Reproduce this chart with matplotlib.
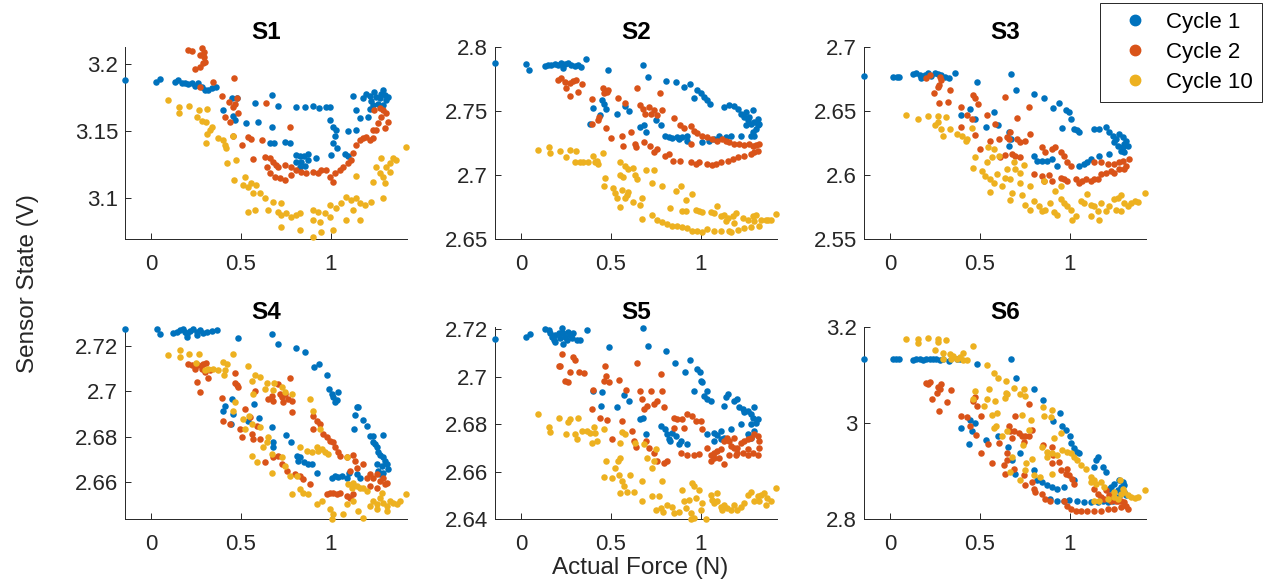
import numpy as np
import matplotlib
matplotlib.use('Agg')
import matplotlib.pyplot as plt
from matplotlib.lines import Line2D

# columns: actual force (N), sensor state (V)
s1_cycle1 = np.array([
    [-0.144, 3.188], [0.028, 3.1865], [0.05, 3.189], [0.133, 3.187], [0.152, 3.188], [0.170, 3.186],
    [0.189, 3.186], [0.207, 3.185], [0.226, 3.186], [0.244, 3.184], [0.263, 3.186], [0.281, 3.183],
    [0.300, 3.181], [0.318, 3.181], [0.337, 3.182], [0.361, 3.183], [0.448, 3.175], [0.481, 3.175],
    [0.398, 3.166], [0.457, 3.161], [0.466, 3.158], [0.531, 3.156], [0.596, 3.157], [0.578, 3.171],
    [0.674, 3.177], [0.674, 3.153], [0.707, 3.169], [0.806, 3.168], [0.856, 3.168], [0.902, 3.169],
    [0.933, 3.167], [0.976, 3.168], [0.994, 3.168], [0.661, 3.141], [0.683, 3.141], [0.748, 3.142],
    [0.776, 3.141], [0.809, 3.132], [0.828, 3.131], [0.850, 3.131], [0.874, 3.133], [0.806, 3.127],
    [0.837, 3.127], [0.874, 3.128], [0.920, 3.130], [0.828, 3.123], [0.856, 3.124], [0.994, 3.158],
    [1.013, 3.153], [1.031, 3.151], [1.022, 3.146], [1.013, 3.141], [1.035, 3.137], [1.004, 3.132],
    [1.078, 3.133], [1.096, 3.131], [1.096, 3.150], [1.143, 3.151], [1.161, 3.160], [1.143, 3.166],
    [1.124, 3.176], [1.180, 3.1745], [1.198, 3.178], [1.217, 3.176], [1.226, 3.1725], [1.244, 3.179],
    [1.254, 3.1755], [1.272, 3.1745], [1.281, 3.178], [1.291, 3.1805], [1.300, 3.1768], [1.309, 3.173],
    [1.319, 3.1755], [1.263, 3.1705], [1.235, 3.1693], [1.207, 3.1603], [1.220, 3.1665], [1.291, 3.1693],
])
s1_cycle2 = np.array([
    [0.207, 3.2108], [0.226, 3.2103], [0.281, 3.212], [0.294, 3.2095], [0.272, 3.207], [0.294, 3.2058],
    [0.300, 3.202], [0.291, 3.2008], [0.244, 3.1963], [0.272, 3.1983], [0.272, 3.183], [0.343, 3.187],
    [0.461, 3.190], [0.393, 3.1765], [0.435, 3.1715], [0.454, 3.168], [0.467, 3.1705], [0.476, 3.1745],
    [0.411, 3.1608], [0.439, 3.157], [0.485, 3.1633], [0.454, 3.1465], [0.504, 3.1395], [0.541, 3.1453],
    [0.559, 3.1438], [0.615, 3.1433], [0.639, 3.1713], [0.772, 3.1533], [0.569, 3.1288], [0.633, 3.1308],
    [0.661, 3.1295], [0.643, 3.1233], [0.680, 3.127], [0.698, 3.1245], [0.707, 3.1233], [0.661, 3.1183],
    [0.689, 3.1158], [0.717, 3.1145], [0.744, 3.1133], [0.781, 3.117], [0.744, 3.1245], [0.781, 3.1233],
    [0.809, 3.1208], [0.837, 3.1195], [0.865, 3.1183], [0.902, 3.1195], [0.930, 3.1183], [0.948, 3.1208],
    [0.976, 3.1208], [0.994, 3.1158], [1.013, 3.112], [1.022, 3.1183], [1.050, 3.1208], [1.069, 3.1233],
    [1.096, 3.1258], [1.115, 3.1283], [1.124, 3.1333], [1.143, 3.1395], [1.161, 3.1433], [1.180, 3.1445],
    [1.198, 3.1458], [1.217, 3.1433], [1.235, 3.1445], [1.254, 3.1508], [1.263, 3.1558], [1.281, 3.1608],
    [1.291, 3.1658], [1.309, 3.1633], [1.319, 3.157], [1.300, 3.152], [1.272, 3.167], [1.244, 3.1658],
    [1.235, 3.1508],
])
s1_cycle10 = np.array([
    [0.096, 3.1733], [0.157, 3.1683], [0.157, 3.1638], [0.213, 3.1688], [0.269, 3.1658], [0.313, 3.1663],
    [0.254, 3.1603], [0.281, 3.1578], [0.306, 3.157], [0.337, 3.1533], [0.328, 3.1508], [0.309, 3.1478],
    [0.306, 3.1408], [0.374, 3.1445], [0.402, 3.1433], [0.411, 3.1395], [0.420, 3.137], [0.424, 3.1263],
    [0.472, 3.1283], [0.454, 3.1463], [0.463, 3.1135], [0.522, 3.1158], [0.513, 3.1095], [0.541, 3.1083],
    [0.559, 3.1108], [0.587, 3.1095], [0.569, 3.1033], [0.606, 3.1033], [0.633, 3.0995], [0.680, 3.097],
    [0.726, 3.0958], [0.541, 3.0895], [0.578, 3.0908], [0.652, 3.0908], [0.707, 3.0895], [0.726, 3.087],
    [0.754, 3.0883], [0.781, 3.0858], [0.809, 3.087], [0.828, 3.0888], [0.726, 3.0783], [0.828, 3.0758],
    [0.902, 3.0908], [0.930, 3.0895], [0.967, 3.0883], [0.994, 3.0945], [1.031, 3.092], [0.902, 3.0833],
    [0.939, 3.082], [0.994, 3.0858], [0.902, 3.0708], [0.948, 3.0745], [1.013, 3.0758], [1.059, 3.0958],
    [1.087, 3.1008], [1.115, 3.0983], [1.143, 3.0995], [1.161, 3.0958], [1.124, 3.0908], [1.087, 3.0833],
    [1.161, 3.0833], [1.189, 3.0945], [1.226, 3.097], [1.235, 3.112], [1.272, 3.1183], [1.291, 3.1158],
    [1.309, 3.1233], [1.328, 3.1258], [1.346, 3.1295], [1.365, 3.1283], [1.300, 3.1108], [1.328, 3.1195],
    [1.254, 3.1233], [1.281, 3.1295], [1.417, 3.1378], [1.143, 3.1163], [1.291, 3.0995],
])

s2_cycle1 = np.array([
    [-0.145, 2.7874], [0.028, 2.7868], [0.047, 2.7821], [0.131, 2.7855], [0.150, 2.7861], [0.168, 2.7861],
    [0.187, 2.7866], [0.206, 2.7861], [0.224, 2.7874], [0.243, 2.7866], [0.262, 2.7874], [0.280, 2.7861],
    [0.299, 2.7855], [0.318, 2.7861], [0.336, 2.7847], [0.234, 2.7834], [0.364, 2.7908], [0.482, 2.7821],
    [0.677, 2.7861], [0.705, 2.7768], [0.449, 2.7584], [0.462, 2.7558], [0.473, 2.7519], [0.398, 2.7524],
    [0.439, 2.7471], [0.383, 2.740], [0.533, 2.7479], [0.579, 2.754], [0.602, 2.7498], [0.660, 2.7374],
    [0.682, 2.7387], [0.697, 2.7335], [0.753, 2.7427], [0.781, 2.7387], [0.807, 2.7737], [0.860, 2.7729],
    [0.910, 2.769], [0.940, 2.7708], [0.963, 2.7598], [0.981, 2.7663], [1.0, 2.7637], [1.019, 2.7611],
    [1.037, 2.7584], [1.052, 2.7558], [0.804, 2.7308], [0.822, 2.7295], [0.841, 2.7287], [0.869, 2.7295],
    [0.897, 2.7295], [0.925, 2.7308], [0.878, 2.7282], [0.925, 2.7269], [1.009, 2.7256], [1.047, 2.7269],
    [1.075, 2.7282], [1.103, 2.7308], [1.140, 2.7295], [1.168, 2.7308], [1.224, 2.7308], [1.131, 2.7532],
    [1.159, 2.755], [1.187, 2.754], [1.206, 2.7519], [1.224, 2.7479], [1.243, 2.7453], [1.252, 2.7492],
    [1.271, 2.7453], [1.290, 2.7506], [1.262, 2.7427], [1.280, 2.740], [1.299, 2.7413], [1.318, 2.7387],
    [1.308, 2.7361], [1.290, 2.7335], [1.299, 2.7308], [1.280, 2.7308], [1.318, 2.744], [1.252, 2.7387],
    [1.327, 2.740],
])
s2_cycle2 = np.array([
    [0.206, 2.7742], [0.224, 2.7755], [0.243, 2.7729], [0.271, 2.7716], [0.290, 2.7734], [0.305, 2.7742],
    [0.252, 2.7676], [0.271, 2.7616], [0.318, 2.765], [0.342, 2.771], [0.458, 2.7676], [0.467, 2.7655],
    [0.477, 2.7645], [0.486, 2.7663], [0.462, 2.7637], [0.393, 2.759], [0.435, 2.7453], [0.430, 2.7427],
    [0.396, 2.7395], [0.473, 2.7366], [0.501, 2.7287], [0.538, 2.7598], [0.579, 2.7566], [0.561, 2.7308],
    [0.566, 2.7229], [0.613, 2.7335], [0.645, 2.7676], [0.664, 2.7545], [0.678, 2.7519], [0.692, 2.7479],
    [0.710, 2.7532], [0.723, 2.7479], [0.738, 2.7506], [0.757, 2.7471], [0.785, 2.7506], [0.776, 2.7637],
    [0.632, 2.7242], [0.641, 2.7216], [0.682, 2.726], [0.720, 2.7229], [0.738, 2.7177], [0.757, 2.7203],
    [0.804, 2.7151], [0.822, 2.7164], [0.847, 2.7111], [0.884, 2.7111], [0.850, 2.7445], [0.884, 2.7392],
    [0.907, 2.7366], [0.944, 2.7379], [0.963, 2.734], [0.981, 2.7327], [1.009, 2.7308], [1.037, 2.7295],
    [1.065, 2.7282], [1.093, 2.7269], [1.121, 2.7282], [1.140, 2.7269], [1.159, 2.7256], [1.187, 2.7243],
    [1.215, 2.7243], [1.243, 2.7234], [1.271, 2.7243], [1.290, 2.723], [1.308, 2.7234], [1.327, 2.7243],
    [1.299, 2.7177], [1.280, 2.7164], [1.318, 2.719], [0.944, 2.7098], [0.972, 2.7085], [0.991, 2.7103],
    [1.037, 2.7085], [1.065, 2.7077], [1.084, 2.7085], [1.112, 2.7098], [1.150, 2.7111], [1.178, 2.7124],
    [1.206, 2.7137], [1.243, 2.7145], [0.944, 2.7242],
])
s2_cycle10 = np.array([
    [0.093, 2.7195], [0.153, 2.7216], [0.159, 2.7169], [0.215, 2.719], [0.249, 2.7137], [0.271, 2.7198],
    [0.308, 2.719], [0.299, 2.7103], [0.327, 2.7103], [0.346, 2.7103], [0.374, 2.7098], [0.402, 2.7151],
    [0.411, 2.7098], [0.421, 2.7111], [0.458, 2.7171], [0.430, 2.7085], [0.467, 2.6976], [0.462, 2.6916],
    [0.514, 2.6897], [0.523, 2.6858], [0.551, 2.7103], [0.551, 2.7003], [0.566, 2.6984], [0.579, 2.7071],
    [0.598, 2.705], [0.626, 2.7055], [0.645, 2.6971], [0.636, 2.6997], [0.533, 2.6818], [0.561, 2.6884],
    [0.589, 2.6845], [0.579, 2.6818], [0.598, 2.6871], [0.551, 2.6753], [0.626, 2.6792], [0.664, 2.6766],
    [0.673, 2.6818], [0.738, 2.7042], [0.729, 2.6937], [0.785, 2.6911], [0.695, 2.7042], [0.673, 2.6658],
    [0.729, 2.6684], [0.757, 2.6645], [0.785, 2.6632], [0.813, 2.6618], [0.841, 2.6605], [0.869, 2.6605],
    [0.897, 2.6592], [0.925, 2.6587], [0.953, 2.6566], [0.981, 2.6566], [1.009, 2.6558], [1.037, 2.6579],
    [1.075, 2.6566], [1.112, 2.6566], [1.159, 2.6566], [1.168, 2.6553], [1.206, 2.6574], [1.243, 2.6584],
    [1.280, 2.6592], [1.327, 2.6605], [1.364, 2.6645], [0.832, 2.6743], [0.860, 2.6874], [0.888, 2.6914],
    [0.897, 2.6716], [0.916, 2.6716], [0.916, 2.6808], [0.953, 2.6848], [0.972, 2.673], [0.991, 2.6716],
    [1.009, 2.6709], [1.056, 2.6709], [1.075, 2.6703], [1.093, 2.6756], [1.112, 2.6677], [1.131, 2.669],
    [1.150, 2.6664], [1.178, 2.6677], [1.196, 2.6703], [1.234, 2.6664], [1.262, 2.6651], [1.290, 2.6677],
    [1.308, 2.669], [1.336, 2.6651], [1.374, 2.6651], [1.393, 2.6651], [1.420, 2.6696], [1.140, 2.6638],
    [1.187, 2.6625], [1.299, 2.6638],
])

s3_cycle1 = np.array([
    [-0.145, 2.6774], [0.015, 2.6769], [0.037, 2.6769], [0.049, 2.6769], [0.127, 2.6787], [0.146, 2.6795],
    [0.164, 2.6782], [0.174, 2.6761], [0.193, 2.6782], [0.211, 2.6795], [0.230, 2.6777], [0.249, 2.680],
    [0.267, 2.6787], [0.286, 2.6782], [0.305, 2.6769], [0.329, 2.6761], [0.361, 2.6795], [0.482, 2.6729],
    [0.673, 2.679], [0.703, 2.6663], [0.393, 2.6471], [0.445, 2.6513], [0.473, 2.644], [0.535, 2.6374],
    [0.576, 2.6492], [0.600, 2.6387], [0.660, 2.6335], [0.665, 2.6224], [0.673, 2.6282], [0.8, 2.6632],
    [0.856, 2.6598], [0.908, 2.6527], [0.940, 2.6566], [0.959, 2.6369], [0.978, 2.6506], [0.996, 2.6492],
    [1.009, 2.644], [1.024, 2.6361], [1.039, 2.6348], [1.052, 2.6335], [1.136, 2.6361], [1.164, 2.6361],
    [1.202, 2.6374], [1.221, 2.6335], [1.239, 2.6308], [1.258, 2.6282], [1.277, 2.6321], [1.295, 2.6295],
    [1.305, 2.6243], [1.314, 2.6269], [1.323, 2.623], [1.295, 2.6216], [1.305, 2.6177], [1.286, 2.619],
    [1.267, 2.623], [1.249, 2.6256], [1.221, 2.6164], [1.164, 2.615], [1.118, 2.6124], [1.099, 2.6098],
    [1.080, 2.6085], [1.052, 2.6072], [0.8, 2.615], [0.819, 2.6111], [0.847, 2.6111], [0.875, 2.6111],
    [0.903, 2.6124], [0.931, 2.6072],
])
s3_cycle2 = np.array([
    [0.202, 2.6761], [0.221, 2.6782], [0.277, 2.6769], [0.286, 2.6742], [0.273, 2.6703], [0.267, 2.669],
    [0.243, 2.6642], [0.336, 2.6663], [0.271, 2.6566], [0.320, 2.6571], [0.393, 2.6532], [0.460, 2.6624],
    [0.473, 2.6598], [0.492, 2.6558], [0.430, 2.6471], [0.454, 2.644], [0.393, 2.6374], [0.473, 2.6316],
    [0.538, 2.6471], [0.585, 2.640], [0.641, 2.6611], [0.772, 2.6532], [0.707, 2.6445], [0.501, 2.6203],
    [0.557, 2.6269], [0.604, 2.6282], [0.650, 2.6295], [0.669, 2.6335], [0.707, 2.6282], [0.725, 2.6256],
    [0.753, 2.6269], [0.679, 2.6164], [0.660, 2.6282], [0.641, 2.6156], [0.697, 2.615], [0.613, 2.6137],
    [0.725, 2.6137], [0.781, 2.6321], [0.847, 2.6216], [0.865, 2.6177], [0.903, 2.6203], [0.921, 2.6216],
    [0.950, 2.6177], [0.968, 2.615], [0.987, 2.6098], [1.006, 2.6072], [0.950, 2.598], [0.968, 2.5966],
    [0.987, 2.5953], [1.034, 2.5966], [1.052, 2.594], [1.071, 2.5953], [1.090, 2.5966], [1.118, 2.5953],
    [1.136, 2.5966], [1.155, 2.5972], [1.174, 2.6006], [1.202, 2.6019], [1.230, 2.6032], [1.249, 2.6085],
    [1.277, 2.6098], [1.295, 2.6111], [1.314, 2.6072], [1.333, 2.6124], [1.305, 2.6045], [0.8, 2.6006],
    [0.847, 2.5993], [0.884, 2.5998], [0.903, 2.5953], [0.856, 2.5953], [1.136, 2.6098], [1.174, 2.6098],
    [1.211, 2.6085], [1.249, 2.6019], [1.277, 2.6045],
])
s3_cycle10 = np.array([
    [0.090, 2.6471], [0.155, 2.644], [0.211, 2.6461], [0.267, 2.6461], [0.310, 2.6453], [0.267, 2.6414],
    [0.248, 2.6387], [0.286, 2.6361], [0.295, 2.6308], [0.333, 2.6361], [0.370, 2.6321], [0.398, 2.6308],
    [0.422, 2.6269], [0.426, 2.6282], [0.454, 2.6366], [0.473, 2.6137], [0.464, 2.6058], [0.510, 2.6032],
    [0.538, 2.6098], [0.548, 2.6216], [0.576, 2.6203], [0.566, 2.6137], [0.604, 2.615], [0.529, 2.5993],
    [0.557, 2.5966], [0.576, 2.594], [0.594, 2.6006], [0.622, 2.5914], [0.641, 2.598], [0.650, 2.6045],
    [0.688, 2.6098], [0.697, 2.6045], [0.744, 2.6077], [0.725, 2.6019], [0.669, 2.5966], [0.557, 2.5866],
    [0.679, 2.5861], [0.669, 2.5808], [0.725, 2.594], [0.735, 2.584], [0.781, 2.5914], [0.753, 2.5769],
    [0.781, 2.573], [0.8, 2.5795], [0.828, 2.5756], [0.847, 2.5717], [0.865, 2.573], [0.893, 2.5782],
    [0.912, 2.5709], [0.931, 2.569], [0.950, 2.5809], [0.968, 2.5782], [0.987, 2.5756], [1.006, 2.573],
    [1.015, 2.5651], [1.034, 2.5677], [1.062, 2.5795], [1.080, 2.5782], [1.099, 2.5848], [1.118, 2.5769],
    [1.136, 2.5756], [1.155, 2.5717], [1.174, 2.5782], [1.118, 2.5677], [1.164, 2.5651], [1.202, 2.5717],
    [1.221, 2.5756], [1.249, 2.5809], [1.267, 2.5822], [1.286, 2.584], [1.305, 2.5782], [1.323, 2.5756],
    [1.342, 2.5782], [1.361, 2.5795], [1.379, 2.5787], [1.420, 2.5856], [1.258, 2.573], [1.286, 2.5717],
    [0.856, 2.5953], [0.921, 2.5874], [0.950, 2.5914],
])

s4_cycle1 = np.array([
    [-0.145, 2.7274], [0.032, 2.7277], [0.050, 2.7255], [0.124, 2.7259], [0.143, 2.7262], [0.161, 2.7269],
    [0.180, 2.7277], [0.189, 2.7262], [0.202, 2.7255], [0.217, 2.7267], [0.236, 2.7273], [0.254, 2.7262],
    [0.273, 2.7269], [0.291, 2.7259], [0.310, 2.7262], [0.338, 2.7265], [0.365, 2.7269], [0.199, 2.724],
    [0.254, 2.7247], [0.486, 2.7235], [0.675, 2.7255], [0.705, 2.7207], [0.805, 2.7191], [0.857, 2.7173],
    [0.909, 2.7107], [0.937, 2.7122], [0.978, 2.707], [0.993, 2.7011], [1.006, 2.6989], [1.015, 2.6977],
    [1.033, 2.6962], [1.024, 2.6952], [1.043, 2.6996], [1.145, 2.693], [1.154, 2.6932], [1.135, 2.6897],
    [1.182, 2.6873], [1.200, 2.6848], [1.130, 2.6833], [1.219, 2.6804], [1.237, 2.6804], [1.234, 2.6774],
    [1.247, 2.6767], [1.256, 2.6752], [1.265, 2.673], [1.275, 2.672], [1.293, 2.6708], [1.302, 2.6693],
    [1.289, 2.6807], [1.312, 2.6678], [1.284, 2.6671], [1.265, 2.6649], [1.321, 2.6656], [1.293, 2.6641],
    [1.275, 2.6634], [1.256, 2.6678], [0.399, 2.6915], [0.412, 2.6937], [0.449, 2.6967], [0.445, 2.6856],
    [0.458, 2.6898], [0.542, 2.6871], [0.575, 2.6945], [0.603, 2.6883], [0.672, 2.6844], [0.681, 2.6774],
    [0.681, 2.6752], [0.751, 2.6807], [0.777, 2.6774], [0.811, 2.6715], [0.820, 2.6693], [0.829, 2.6708],
    [0.852, 2.6686], [0.876, 2.6678], [0.894, 2.6681], [0.926, 2.6637], [1.006, 2.6619], [1.024, 2.6626],
    [1.043, 2.6622], [1.061, 2.6626], [1.089, 2.6619], [1.104, 2.6641], [1.145, 2.6634], [1.163, 2.6619],
])
s4_cycle2 = np.array([
    [0.208, 2.7122], [0.226, 2.7114], [0.245, 2.7099], [0.254, 2.704], [0.273, 2.6996], [0.263, 2.7114],
    [0.282, 2.7099], [0.291, 2.7122], [0.301, 2.7085], [0.319, 2.706], [0.328, 2.7092], [0.306, 2.7125],
    [0.393, 2.6971], [0.399, 2.6867], [0.440, 2.6856], [0.468, 2.708], [0.477, 2.7026], [0.486, 2.7021],
    [0.468, 2.7036], [0.504, 2.6797], [0.495, 2.6833], [0.523, 2.6922], [0.551, 2.6885], [0.560, 2.6811],
    [0.569, 2.6789], [0.579, 2.700], [0.588, 2.6848], [0.607, 2.6789], [0.635, 2.6686], [0.681, 2.6711],
    [0.709, 2.6715], [0.727, 2.6678], [0.653, 2.6966], [0.672, 2.6981], [0.681, 2.6959], [0.709, 2.7033],
    [0.718, 2.6989], [0.727, 2.6974], [0.737, 2.6952], [0.746, 2.6989], [0.764, 2.6966], [0.783, 2.6959],
    [0.774, 2.706], [0.783, 2.6907], [0.755, 2.6649], [0.801, 2.6634], [0.829, 2.6627], [0.848, 2.6612],
    [0.885, 2.659], [0.904, 2.6893], [0.922, 2.687], [0.941, 2.6856], [0.904, 2.6833], [0.959, 2.6811],
    [0.978, 2.6797], [0.996, 2.6782], [1.015, 2.6774], [1.024, 2.6752], [1.043, 2.673], [1.052, 2.6715],
    [1.089, 2.6708], [1.126, 2.672], [1.135, 2.6693], [1.145, 2.6663], [0.978, 2.6545], [0.996, 2.6553],
    [1.015, 2.6553], [1.033, 2.6548], [1.052, 2.6553], [1.089, 2.6538], [1.108, 2.653], [1.126, 2.6545],
    [1.108, 2.6649], [1.182, 2.6678], [1.200, 2.6619], [1.219, 2.6634], [1.237, 2.6619], [1.256, 2.6634],
    [1.275, 2.6604], [1.293, 2.6619], [1.302, 2.659], [1.312, 2.6597], [1.256, 2.6575], [1.219, 2.6582],
])
s4_cycle10 = np.array([
    [0.096, 2.7159], [0.161, 2.7181], [0.161, 2.7151], [0.213, 2.7163], [0.269, 2.7163], [0.250, 2.7125],
    [0.301, 2.7092], [0.319, 2.710], [0.347, 2.7097], [0.375, 2.7092], [0.403, 2.7129], [0.421, 2.7122],
    [0.412, 2.7092], [0.406, 2.707], [0.458, 2.7163], [0.542, 2.711], [0.579, 2.7074], [0.607, 2.7065],
    [0.560, 2.7045], [0.570, 2.6986], [0.644, 2.7036], [0.685, 2.7036], [0.727, 2.7021], [0.746, 2.6996],
    [0.783, 2.6989], [0.635, 2.7011], [0.681, 2.7006], [0.468, 2.6952], [0.458, 2.6915], [0.514, 2.6878],
    [0.523, 2.6833], [0.547, 2.6893], [0.560, 2.6856], [0.607, 2.6844], [0.625, 2.6752], [0.644, 2.6774],
    [0.653, 2.6797], [0.672, 2.6723], [0.672, 2.6641], [0.560, 2.6715], [0.588, 2.6686], [0.727, 2.6708],
    [0.746, 2.6671], [0.774, 2.6627], [0.811, 2.6627], [0.829, 2.6755], [0.866, 2.6737], [0.894, 2.673],
    [0.922, 2.6752], [0.931, 2.6737], [0.950, 2.6745], [0.968, 2.673], [0.987, 2.6723], [0.885, 2.6966],
    [0.904, 2.6915], [0.941, 2.6833], [0.783, 2.6545], [0.829, 2.6567], [0.848, 2.6553], [0.876, 2.6545],
    [0.922, 2.6501], [0.950, 2.6516], [0.996, 2.6479], [1.015, 2.6457], [1.006, 2.6437], [1.071, 2.6457],
    [1.089, 2.6708], [1.098, 2.659], [1.117, 2.6575], [1.126, 2.6597], [1.145, 2.6582], [1.163, 2.6575],
    [1.182, 2.6575], [1.200, 2.656], [1.126, 2.6516], [1.089, 2.6501], [1.154, 2.6471], [1.182, 2.6442],
    [1.237, 2.6516], [1.256, 2.6501], [1.275, 2.653], [1.293, 2.6508], [1.312, 2.6493], [1.330, 2.6516],
    [1.349, 2.6508], [1.367, 2.6501], [1.386, 2.6516], [1.419, 2.6545], [1.284, 2.6553], [1.312, 2.6471],
    [1.256, 2.6479], [1.219, 2.6493],
])

s5_cycle1 = np.array([
    [-0.145, 2.7159], [0.028, 2.7166], [0.050, 2.718], [0.134, 2.720], [0.153, 2.7197], [0.162, 2.7183],
    [0.171, 2.7169], [0.181, 2.7154], [0.190, 2.7176], [0.209, 2.7186], [0.218, 2.7162], [0.227, 2.7204],
    [0.236, 2.7183], [0.246, 2.7169], [0.255, 2.7154], [0.264, 2.719], [0.274, 2.7176], [0.283, 2.7162],
    [0.292, 2.7183], [0.311, 2.7154], [0.330, 2.7157], [0.367, 2.7197], [0.236, 2.714], [0.190, 2.7147],
    [0.488, 2.7126], [0.680, 2.7207], [0.706, 2.7129], [0.808, 2.7108], [0.857, 2.7058], [0.912, 2.702],
    [0.940, 2.7069], [0.981, 2.7034], [0.996, 2.702], [1.0, 2.6984], [1.009, 2.6977], [0.963, 2.6939],
    [1.019, 2.692], [1.037, 2.6906], [1.056, 2.6899], [1.037, 2.6942], [1.140, 2.6913], [1.153, 2.6927],
    [1.186, 2.6899], [1.205, 2.6906], [1.130, 2.6878], [1.214, 2.6871], [1.233, 2.6864], [1.242, 2.685],
    [1.261, 2.6857], [1.279, 2.6842], [1.298, 2.6871], [1.289, 2.6828], [1.317, 2.6821], [1.307, 2.6807],
    [1.279, 2.680], [1.298, 2.6772], [1.279, 2.6743], [1.261, 2.6757], [1.223, 2.680], [0.4, 2.6942],
    [0.451, 2.6935], [0.445, 2.6878], [0.534, 2.6874], [0.575, 2.6923], [0.603, 2.6899], [0.661, 2.6821],
    [0.678, 2.6828], [0.696, 2.676], [0.777, 2.6793], [0.804, 2.6779], [0.814, 2.6757], [0.823, 2.6736],
    [0.832, 2.6729], [0.842, 2.6764], [0.860, 2.675], [0.888, 2.6729], [0.879, 2.6715], [0.926, 2.6715],
    [1.037, 2.6757], [1.074, 2.6764], [1.093, 2.6755], [1.112, 2.6772], [1.130, 2.6743], [1.168, 2.6779],
    [1.074, 2.6729], [1.112, 2.6736],
])
s5_cycle2 = np.array([
    [0.227, 2.7095], [0.218, 2.7044], [0.209, 2.7044], [0.292, 2.7083], [0.302, 2.7069], [0.274, 2.702],
    [0.264, 2.6977], [0.246, 2.6981], [0.320, 2.702], [0.348, 2.7015], [0.400, 2.6945], [0.395, 2.6864],
    [0.438, 2.6828], [0.479, 2.6818], [0.469, 2.7044], [0.475, 2.7005], [0.460, 2.6984], [0.488, 2.6977],
    [0.507, 2.6736], [0.544, 2.6987], [0.562, 2.6814], [0.585, 2.6945], [0.618, 2.6772], [0.631, 2.6729],
    [0.639, 2.6703], [0.646, 2.7058], [0.665, 2.6942], [0.674, 2.6906], [0.683, 2.6864], [0.702, 2.6878],
    [0.721, 2.6942], [0.739, 2.6885], [0.758, 2.6899], [0.786, 2.6942], [0.777, 2.701], [0.795, 2.6874],
    [0.693, 2.6729], [0.711, 2.6701], [0.739, 2.6679], [0.758, 2.6644], [0.795, 2.6637], [0.814, 2.6644],
    [0.851, 2.6828], [0.870, 2.6821], [0.898, 2.6821], [0.926, 2.6842], [0.953, 2.6835], [0.972, 2.6814],
    [1.0, 2.6814], [1.009, 2.6779], [0.907, 2.6786], [0.851, 2.6786], [0.888, 2.6679], [0.926, 2.6672],
    [0.963, 2.6672], [0.991, 2.6675], [1.037, 2.6701], [1.056, 2.6672], [1.074, 2.6679], [1.093, 2.6686],
    [1.112, 2.6694], [1.056, 2.6644], [1.074, 2.6658], [1.102, 2.6658], [1.130, 2.663], [1.149, 2.6743],
    [1.158, 2.6729], [1.168, 2.6708], [1.186, 2.6701], [1.196, 2.6672], [1.205, 2.6679], [1.223, 2.6722],
    [1.242, 2.6729], [1.261, 2.6736], [1.279, 2.6743], [1.298, 2.6757], [1.317, 2.675], [1.326, 2.6729],
    [1.326, 2.6701], [1.317, 2.6672], [1.289, 2.6679], [1.261, 2.6672], [1.233, 2.6679], [1.186, 2.6743],
    [1.205, 2.6701], [1.130, 2.6729], [1.158, 2.6672], [1.261, 2.6694],
])
s5_cycle10 = np.array([
    [0.097, 2.6842], [0.158, 2.6789], [0.162, 2.6767], [0.214, 2.6828], [0.251, 2.676], [0.270, 2.6821],
    [0.264, 2.6811], [0.302, 2.676], [0.315, 2.6828], [0.311, 2.6736], [0.339, 2.6772], [0.367, 2.6772],
    [0.385, 2.6764], [0.404, 2.6789], [0.413, 2.6764], [0.395, 2.6722], [0.423, 2.6729], [0.460, 2.6779],
    [0.475, 2.6644], [0.464, 2.6576], [0.525, 2.6616], [0.507, 2.6573], [0.538, 2.6644], [0.553, 2.6658],
    [0.544, 2.6587], [0.562, 2.6559], [0.553, 2.6509], [0.575, 2.6538], [0.590, 2.6516], [0.609, 2.6587],
    [0.628, 2.6516], [0.562, 2.6769], [0.581, 2.6757], [0.553, 2.6722], [0.637, 2.6722], [0.683, 2.6715],
    [0.674, 2.6559], [0.674, 2.6474], [0.702, 2.6658], [0.730, 2.6616], [0.739, 2.6644], [0.749, 2.6694],
    [0.730, 2.6495], [0.786, 2.6559], [0.767, 2.6495], [0.749, 2.6438], [0.777, 2.6445], [0.791, 2.6431],
    [0.814, 2.646], [0.842, 2.6452], [0.851, 2.6424], [0.879, 2.6431], [0.898, 2.6523], [0.907, 2.6474],
    [0.916, 2.6445], [0.935, 2.6481], [0.953, 2.6552], [0.944, 2.6424], [0.963, 2.6538], [0.972, 2.6488],
    [0.991, 2.6523], [1.0, 2.6438], [1.009, 2.6467], [1.028, 2.640], [1.056, 2.6502], [1.065, 2.6481],
    [1.074, 2.6467], [1.093, 2.6509], [1.112, 2.6452], [1.130, 2.646], [1.149, 2.6445], [1.168, 2.6438],
    [1.186, 2.646], [1.205, 2.6438], [1.223, 2.6452], [1.242, 2.6467], [1.261, 2.6502], [1.279, 2.6516],
    [1.298, 2.6474], [1.317, 2.6495], [1.335, 2.6502], [1.354, 2.6509], [1.372, 2.6488], [1.391, 2.6474],
    [1.363, 2.646], [1.326, 2.6474], [1.420, 2.653], [0.944, 2.640], [0.963, 2.6403], [1.093, 2.6474],
    [1.121, 2.6438],
])

s6_cycle1 = np.array([
    [-0.145, 3.1333], [0.015, 3.1333], [0.034, 3.1333], [0.049, 3.1333], [0.127, 3.1319], [0.146, 3.1333],
    [0.164, 3.1333], [0.183, 3.1319], [0.202, 3.1333], [0.221, 3.1333], [0.239, 3.1326], [0.258, 3.1333],
    [0.277, 3.1319], [0.295, 3.1333], [0.329, 3.1298], [0.370, 3.1333], [0.389, 3.1333], [0.482, 3.1228],
    [0.675, 3.1333], [0.703, 3.0947], [0.804, 3.0701], [0.852, 3.0477], [0.946, 3.021], [0.908, 3.0034],
    [0.955, 2.9929], [0.978, 2.9859], [1.002, 2.9719], [1.006, 2.9578], [1.024, 2.9473], [1.043, 2.9403],
    [1.052, 2.9368], [1.155, 2.9297], [1.146, 2.9227], [1.136, 2.9087], [1.183, 2.9087], [1.202, 2.8981],
    [1.277, 2.8806], [1.295, 2.8771], [1.305, 2.8701], [1.286, 2.8666], [1.249, 2.8736], [1.230, 2.8666],
    [1.221, 2.863], [1.267, 2.8595], [1.305, 2.856], [1.314, 2.849], [1.286, 2.8525], [1.258, 2.8455],
    [1.239, 2.8385], [1.211, 2.835], [1.183, 2.8385], [1.155, 2.835], [1.118, 2.835], [1.080, 2.835],
    [1.043, 2.8385], [0.996, 2.8399], [0.968, 2.8385], [0.393, 2.9894], [0.441, 2.9564], [0.454, 2.9824],
    [0.473, 3.0], [0.535, 2.9648], [0.600, 2.9719], [0.654, 2.9508], [0.679, 2.9227], [0.697, 2.8946],
    [0.725, 2.9368], [0.804, 2.9017], [0.819, 2.8806], [0.847, 2.8771], [0.875, 2.8701], [0.903, 2.8666],
    [0.931, 2.863], [0.968, 2.8666], [1.024, 2.8806], [0.893, 2.842], [0.931, 2.8385], [0.445, 3.007],
])
s6_cycle2 = np.array([
    [0.202, 3.0842], [0.221, 3.0856], [0.211, 3.0807], [0.267, 3.0758], [0.286, 3.0807], [0.277, 3.0701],
    [0.262, 3.0631], [0.342, 3.0687], [0.235, 3.0505], [0.318, 3.0435], [0.271, 3.0259], [0.393, 3.0154],
    [0.430, 3.0126], [0.473, 3.0547], [0.464, 3.0456], [0.482, 3.035], [0.505, 3.014], [0.479, 2.9754],
    [0.445, 2.9943], [0.548, 2.9564], [0.505, 2.9368], [0.566, 2.9157], [0.632, 2.9122], [0.641, 2.8946],
    [0.609, 2.9578], [0.650, 2.9368], [0.660, 2.9929], [0.679, 2.9684], [0.697, 3.014], [0.716, 2.9789],
    [0.735, 2.9719], [0.744, 2.9613], [0.753, 2.9719], [0.772, 2.9733], [0.791, 2.9859], [0.772, 3.0386],
    [0.669, 2.9824], [0.688, 2.9824], [0.650, 2.9227], [0.688, 2.9052], [0.744, 2.8911], [0.753, 2.8701],
    [0.791, 2.8771], [0.8, 2.863], [0.809, 2.856], [0.847, 2.8525], [0.865, 2.842], [0.893, 2.8385],
    [0.903, 2.9157], [0.908, 2.9333], [0.852, 2.9543], [0.940, 2.9192], [0.950, 2.9017], [0.978, 2.8946],
    [0.996, 2.8911], [1.015, 2.8841], [1.024, 2.8736], [0.987, 2.9052], [0.968, 2.8385], [0.987, 2.828],
    [1.006, 2.821], [1.034, 2.8174], [1.062, 2.8174], [1.099, 2.8174], [1.136, 2.8174], [1.174, 2.8174],
    [1.211, 2.821], [1.249, 2.821], [1.286, 2.8245], [1.314, 2.828], [1.323, 2.821], [1.305, 2.835],
    [1.267, 2.8385], [1.230, 2.8385], [1.136, 2.863], [1.155, 2.8525], [1.174, 2.8455], [1.193, 2.842],
    [1.221, 2.849], [1.239, 2.8525], [1.258, 2.8385], [1.286, 2.8385], [1.202, 2.8595], [0.903, 2.9508],
])
s6_cycle10 = np.array([
    [0.090, 3.1754], [0.155, 3.1754], [0.155, 3.167], [0.211, 3.1768], [0.267, 3.1754], [0.267, 3.1684],
    [0.310, 3.1719], [0.249, 3.153], [0.295, 3.1459], [0.333, 3.1438], [0.348, 3.1403], [0.370, 3.1333],
    [0.389, 3.1368], [0.407, 3.1319], [0.426, 3.1312], [0.404, 3.1459], [0.460, 3.160], [0.342, 3.1333],
    [0.295, 3.1333], [0.542, 3.1207], [0.576, 3.1052], [0.600, 3.0933], [0.647, 3.0877], [0.688, 3.0736],
    [0.744, 3.0701], [0.725, 3.0596], [0.753, 3.0561], [0.650, 3.0596], [0.641, 3.0526], [0.647, 3.0617],
    [0.553, 3.0715], [0.538, 3.0505], [0.523, 3.035], [0.473, 3.0666], [0.464, 3.0491], [0.585, 3.0456],
    [0.566, 3.0175], [0.594, 3.021], [0.576, 2.9894], [0.591, 2.9929], [0.622, 2.9719], [0.650, 2.9824],
    [0.735, 3.0175], [0.785, 3.0055], [0.856, 3.014], [0.903, 3.028], [0.897, 3.0126], [0.852, 3.0336],
    [0.950, 2.9789], [0.912, 2.9684], [0.903, 2.9368], [0.927, 2.9333], [0.959, 2.9438], [0.987, 2.9403],
    [1.006, 2.9368], [1.024, 2.9297], [1.043, 2.9227], [1.062, 2.9122], [1.090, 2.9052], [1.118, 2.8876],
    [1.136, 2.8806], [1.118, 2.8771], [1.146, 2.8736], [1.174, 2.8771], [1.193, 2.8666], [1.136, 2.8385],
    [1.164, 2.8385], [1.211, 2.842], [1.249, 2.8455], [1.286, 2.8525], [1.305, 2.856], [1.323, 2.849],
    [1.342, 2.8455], [1.361, 2.8441], [1.379, 2.8455], [1.420, 2.8595], [1.282, 2.8806], [1.295, 2.863],
    [1.249, 2.856], [1.267, 2.842], [0.847, 2.9508], [0.903, 2.8946], [0.875, 2.9403], [0.759, 2.9157],
    [0.8, 2.8911], [0.837, 2.8876], [0.791, 2.9241], [0.753, 2.9017], [0.725, 2.8806], [0.679, 2.9297],
    [0.669, 2.8981], [0.740, 2.9543], [0.772, 2.9859], [0.875, 2.9297],
])

sensor_names = ['S1', 'S2', 'S3', 'S4', 'S5', 'S6']
cycle_names = ['Cycle 1', 'Cycle 2', 'Cycle 10']
sensor_data = [
    [s1_cycle1, s1_cycle2, s1_cycle10],
    [s2_cycle1, s2_cycle2, s2_cycle10],
    [s3_cycle1, s3_cycle2, s3_cycle10],
    [s4_cycle1, s4_cycle2, s4_cycle10],
    [s5_cycle1, s5_cycle2, s5_cycle10],
    [s6_cycle1, s6_cycle2, s6_cycle10],
]
y_limits = [(3.069, 3.213), (2.65, 2.80), (2.55, 2.70), (2.6436, 2.7284), (2.64, 2.721), (2.8, 3.2)]
y_ticks = [
    [3.1, 3.15, 3.2],
    [2.65, 2.7, 2.75, 2.8],
    [2.55, 2.6, 2.65, 2.7],
    [2.66, 2.68, 2.7, 2.72],
    [2.64, 2.66, 2.68, 2.7, 2.72],
    [2.8, 3.0, 3.2],
]
y_tick_labels = [
    ['3.1', '3.15', '3.2'],
    ['2.65', '2.7', '2.75', '2.8'],
    ['2.55', '2.6', '2.65', '2.7'],
    ['2.66', '2.68', '2.7', '2.72'],
    ['2.64', '2.66', '2.68', '2.7', '2.72'],
    ['2.8', '3', '3.2'],
]
x_ticks = [0, 0.5, 1]
x_tick_labels = ['0', '0.5', '1']

colors = ['#0072BD', '#D95319', '#EDB120']
axis_grey = '#262626'

plt.rcParams['font.family'] = ['Liberation Sans', 'DejaVu Sans']

W, H = 1269, 586
fig = plt.figure(figsize=(W / 100, H / 100), dpi=100)

col_left = [125, 495, 864]
row_top = [47, 327]
ax_w, ax_h = 282, 192

for i, name in enumerate(sensor_names):
    r, c = divmod(i, 3)
    ax = fig.add_axes([col_left[c] / W, 1 - (row_top[r] + ax_h) / H, ax_w / W, ax_h / H])
    for pts, col in zip(sensor_data[i], colors):
        ax.scatter(pts[:, 0], pts[:, 1], s=22, color=col, linewidths=0, clip_on=False, zorder=3)
    ax.set_xlim(-0.145, 1.425)
    ax.set_ylim(*y_limits[i])
    ax.set_xticks(x_ticks)
    ax.set_xticklabels(x_tick_labels)
    ax.set_yticks(y_ticks[i])
    ax.set_yticklabels(y_tick_labels[i])
    for side in ['top', 'right']:
        ax.spines[side].set_visible(False)
    for side in ['left', 'bottom']:
        ax.spines[side].set_color(axis_grey)
        ax.spines[side].set_linewidth(0.7)
    ax.tick_params(direction='in', length=4, width=0.7, colors=axis_grey, labelsize=16)
    ax.tick_params(axis='x', pad=11)
    ax.tick_params(axis='y', pad=5)
    ax.set_title(name, fontsize=17.5, fontweight='bold', pad=6)

fig.text(640 / W, 1 - 574 / H, 'Actual Force (N)', ha='center', va='baseline',
         fontsize=17.5, color=axis_grey)
fig.text(28 / W, 1 - 284 / H, 'Sensor State (V)', ha='center', va='center',
         rotation=90, fontsize=17.5, color=axis_grey)

handles = [Line2D([], [], marker='o', linestyle='none', color=c, markersize=7.5) for c in colors]
leg = fig.legend(handles, cycle_names, loc='upper right',
                 bbox_to_anchor=(1262 / W, 1 - 3 / H), bbox_transform=fig.transFigure,
                 fontsize=16, frameon=True, fancybox=False, framealpha=1,
                 edgecolor=axis_grey, borderpad=0.4, labelspacing=0.4,
                 handlelength=2.4, handletextpad=0.2, borderaxespad=0)
leg.get_frame().set_linewidth(0.7)

fig.savefig('out.png', dpi=100)
